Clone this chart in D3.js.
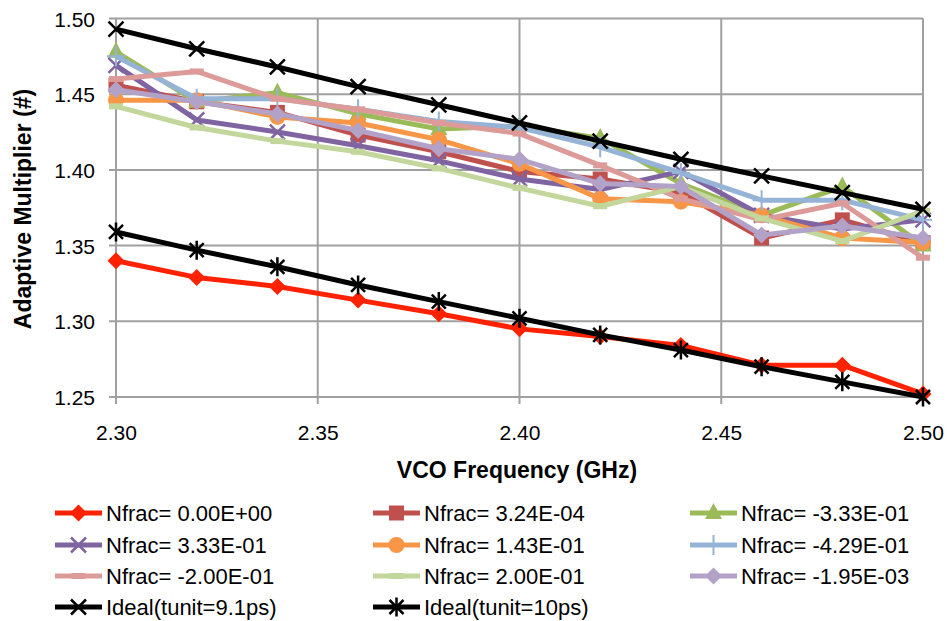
<!DOCTYPE html>
<html>
<head>
<meta charset="utf-8">
<script src="https://cdn.jsdelivr.net/npm/d3@7"></script>
<style>
  body { margin: 0; background: #fff; }
  svg { font-family: "Liberation Sans", Arial, sans-serif; }
</style>
</head>
<body>
<svg id="chart" width="948" height="621"></svg>
<script>
// frequencies (GHz)
const freqs = [2.30, 2.32, 2.34, 2.36, 2.38, 2.40, 2.42, 2.44, 2.46, 2.48, 2.50];

// series values
const nfrac0      = [1.340, 1.329, 1.323, 1.314, 1.305, 1.295, 1.290, 1.284, 1.271, 1.271, 1.252];
const nfrac324e4  = [1.456, 1.445, 1.438, 1.423, 1.412, 1.399, 1.394, 1.385, 1.355, 1.367, 1.352];
const nfracM333   = [1.478, 1.445, 1.451, 1.437, 1.427, 1.429, 1.421, 1.391, 1.370, 1.389, 1.350];
const nfrac333    = [1.469, 1.433, 1.425, 1.416, 1.406, 1.394, 1.387, 1.399, 1.370, 1.361, 1.367];
const nfrac143    = [1.446, 1.446, 1.435, 1.431, 1.420, 1.404, 1.381, 1.379, 1.370, 1.355, 1.352];
const nfracM429   = [1.475, 1.447, 1.447, 1.440, 1.432, 1.428, 1.415, 1.398, 1.380, 1.380, 1.367];
const nfracM200   = [1.460, 1.465, 1.447, 1.440, 1.431, 1.424, 1.403, 1.381, 1.367, 1.378, 1.342];
const nfrac200    = [1.442, 1.428, 1.419, 1.412, 1.401, 1.388, 1.376, 1.389, 1.368, 1.353, 1.373];
const nfracM195e3 = [1.453, 1.445, 1.437, 1.426, 1.414, 1.407, 1.391, 1.389, 1.357, 1.363, 1.355];
const ideal91     = [1.493, 1.480, 1.468, 1.455, 1.443, 1.431, 1.419, 1.407, 1.396, 1.385, 1.374];
const ideal10     = [1.359, 1.347, 1.336, 1.324, 1.313, 1.302, 1.291, 1.281, 1.270, 1.260, 1.250];

const xTicks = [2.30, 2.35, 2.40, 2.45, 2.50];
const yTicks = [1.25, 1.30, 1.35, 1.40, 1.45, 1.50];

const series = [
  { name: "Nfrac= 0.00E+00",  values: nfrac0,      color: "#ff2200", marker: "diamond" },
  { name: "Nfrac= 3.24E-04",  values: nfrac324e4,  color: "#c0504d", marker: "square" },
  { name: "Nfrac= -3.33E-01", values: nfracM333,   color: "#9bbb59", marker: "triangle" },
  { name: "Nfrac= 3.33E-01",  values: nfrac333,    color: "#8064a2", marker: "x" },
  { name: "Nfrac= 1.43E-01",  values: nfrac143,    color: "#f79646", marker: "circle" },
  { name: "Nfrac= -4.29E-01", values: nfracM429,   color: "#95b3d7", marker: "plus" },
  { name: "Nfrac= -2.00E-01", values: nfracM200,   color: "#dc9a98", marker: "dash" },
  { name: "Nfrac= 2.00E-01",  values: nfrac200,    color: "#c3d69b", marker: "dash" },
  { name: "Nfrac= -1.95E-03", values: nfracM195e3, color: "#b3a2c7", marker: "diamond" },
  { name: "Ideal(tunit=9.1ps)", values: ideal91,   color: "#000000", marker: "x" },
  { name: "Ideal(tunit=10ps)",  values: ideal10,   color: "#000000", marker: "asterisk" }
];

const svg = d3.select("#chart");

const x = d3.scaleLinear().domain([2.30, 2.50]).range([116, 923]);
const y = d3.scaleLinear().domain([1.25, 1.50]).range([397, 18.5]);

const gridColor = "#a0a0a0";

// grid lines (with small outward ticks)
const grid = svg.append("g");
grid.selectAll(".hgrid")
  .data(yTicks)
  .join("line")
  .attr("x1", x.range()[0] - 7)
  .attr("x2", x.range()[1])
  .attr("y1", d => y(d))
  .attr("y2", d => y(d))
  .attr("stroke", gridColor)
  .attr("stroke-width", 2);
grid.selectAll(".vgrid")
  .data(xTicks)
  .join("line")
  .attr("x1", d => x(d))
  .attr("x2", d => x(d))
  .attr("y1", y.range()[1])
  .attr("y2", y.range()[0] + 7)
  .attr("stroke", gridColor)
  .attr("stroke-width", 2);

// tick labels through d3 axes
const yAxis = svg.append("g")
  .attr("transform", `translate(${x.range()[0] - 7},0)`)
  .call(d3.axisLeft(y).tickValues(yTicks).tickFormat(d3.format(".2f")).tickSize(0).tickPadding(14));
const xAxis = svg.append("g")
  .attr("transform", `translate(0,${y.range()[0]})`)
  .call(d3.axisBottom(x).tickValues(xTicks).tickFormat(d3.format(".2f")).tickSize(0).tickPadding(0));
[yAxis, xAxis].forEach(a => {
  a.select(".domain").remove();
  a.selectAll("text").attr("font-size", 21).attr("fill", "#000")
    .attr("font-family", "Liberation Sans, Arial, sans-serif");
});
yAxis.selectAll("text").attr("dy", "0.36em");
xAxis.selectAll("text").attr("y", 43).attr("dy", 0);

// axis titles
svg.append("text")
  .attr("x", 517).attr("y", 478)
  .attr("text-anchor", "middle")
  .attr("font-size", 23).attr("font-weight", "bold")
  .text("VCO Frequency (GHz)");
svg.append("text")
  .attr("transform", "translate(31,209) rotate(-90)")
  .attr("text-anchor", "middle")
  .attr("font-size", 23).attr("font-weight", "bold")
  .text("Adaptive Multiplier (#)");

// marker drawing
function drawMarker(g, type, color) {
  if (type === "diamond") {
    g.append("path").attr("d", "M0,-8.5L8.5,0L0,8.5L-8.5,0Z").attr("fill", color);
  } else if (type === "square") {
    g.append("rect").attr("x", -7.5).attr("y", -7.5).attr("width", 15).attr("height", 15).attr("fill", color);
  } else if (type === "triangle") {
    g.append("path").attr("d", "M0,-10L8.5,6L-8.5,6Z").attr("fill", color);
  } else if (type === "circle") {
    g.append("circle").attr("r", 8).attr("fill", color);
  } else if (type === "x") {
    g.append("path").attr("d", "M-7.5,-7.5L7.5,7.5M-7.5,7.5L7.5,-7.5").attr("stroke", color).attr("stroke-width", 2.5).attr("fill", "none");
  } else if (type === "plus") {
    g.append("path").attr("d", "M0,-10L0,10M-9,0L9,0").attr("stroke", color).attr("stroke-width", 2).attr("fill", "none");
  } else if (type === "asterisk") {
    g.append("path").attr("d", "M-7,-7L7,7M-7,7L7,-7M0,-9.5L0,9.5").attr("stroke", color).attr("stroke-width", 2.5).attr("fill", "none");
  } else if (type === "dash") {
    g.append("rect").attr("x", -7).attr("y", -3).attr("width", 14).attr("height", 6).attr("fill", color);
  }
}

const line = d3.line()
  .x((d, i) => x(freqs[i]))
  .y(d => y(d));

// series lines + markers
const plot = svg.append("g");
series.forEach(s => {
  const g = plot.append("g");
  g.append("path")
    .attr("d", line(s.values))
    .attr("fill", "none")
    .attr("stroke", s.color)
    .attr("stroke-width", 5)
    .attr("stroke-linejoin", "round");
  g.selectAll(".m")
    .data(s.values)
    .join("g")
    .attr("transform", (d, i) => `translate(${x(freqs[i])},${y(d)})`)
    .each(function () { drawMarker(d3.select(this), s.marker, s.color); });
});

// legend
const legCols = [55, 373, 690];
const legRows = [513, 545, 576, 607];
const legend = svg.append("g");
series.forEach((s, i) => {
  const cx = legCols[i % 3];
  const cy = legRows[Math.floor(i / 3)];
  const g = legend.append("g").attr("transform", `translate(${cx},${cy})`);
  g.append("line").attr("x1", 0).attr("x2", 47).attr("y1", 0).attr("y2", 0)
    .attr("stroke", s.color).attr("stroke-width", 5);
  const m = g.append("g").attr("transform", "translate(23.5,0)");
  drawMarker(m, s.marker, s.color);
  g.append("text")
    .attr("x", 51).attr("y", 0).attr("dy", "0.36em")
    .attr("font-size", 22)
    .text(s.name);
});
</script>
</body>
</html>
